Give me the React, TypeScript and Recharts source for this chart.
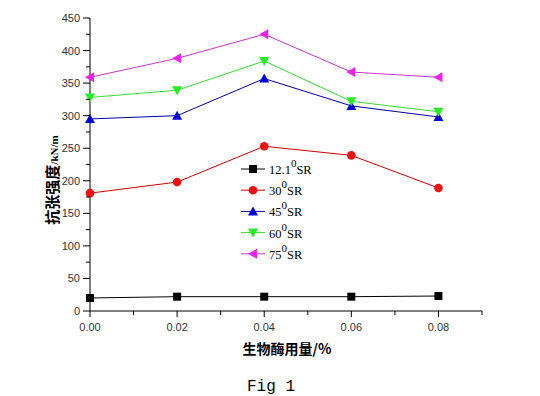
import { LineChart, Line, XAxis, YAxis } from "recharts";

const doses = [0, 0.02, 0.04, 0.06, 0.08];
const sr121 = [20, 22, 22, 22, 23];
const sr30 = [181, 198, 253, 239, 189];
const sr45 = [295, 300, 357, 315, 298];
const sr60 = [328, 339, 384, 322, 306];
const sr75 = [359, 388, 425, 367, 359];

const xTicks = [0, 0.01, 0.02, 0.03, 0.04, 0.05, 0.06, 0.07, 0.08, 0.09];
const yTicks = Array.from({ length: 19 }, (_, i) => i * 25);

const seriesList = [
  { key: "s121", name: "12.1", values: sr121, line: "#000000", fill: "#000000", shape: "square" },
  { key: "s30", name: "30", values: sr30, line: "#d40000", fill: "#ee1111", shape: "circle" },
  { key: "s45", name: "45", values: sr45, line: "#0000aa", fill: "#0000dd", shape: "up" },
  { key: "s60", name: "60", values: sr60, line: "#33dd33", fill: "#22ee22", shape: "down" },
  { key: "s75", name: "75", values: sr75, line: "#cc33cc", fill: "#ee22ee", shape: "left" },
];

const data = doses.map((d, i) => {
  const row: Record<string, number> = { dose: d };
  seriesList.forEach((s) => (row[s.key] = s.values[i]));
  return row;
});

const Marker = ({ cx, cy, shape, color }: { cx: number; cy: number; shape: string; color: string }) => {
  if (cx == null || cy == null) return null;
  if (shape === "square") return <rect x={cx - 4} y={cy - 4} width={8} height={8} fill={color} />;
  if (shape === "circle") return <circle cx={cx} cy={cy} r={4.3} fill={color} />;
  let pts = "";
  if (shape === "up") pts = `${cx - 5},${cy + 4} ${cx + 5},${cy + 4} ${cx},${cy - 5}`;
  if (shape === "down") pts = `${cx - 5},${cy - 4} ${cx + 5},${cy - 4} ${cx},${cy + 5}`;
  if (shape === "left") pts = `${cx + 4},${cy - 5} ${cx + 4},${cy + 5} ${cx - 5},${cy}`;
  return <polygon points={pts} fill={color} />;
};

const YTick = (props: any) => {
  const { x, y, payload } = props;
  const major = payload.value % 50 === 0;
  return (
    <g>
      <line x1={x - (major ? 7 : 4)} x2={x} y1={y} y2={y} stroke="#000" />
      {major && (
        <text x={x - 10} y={y} dy={4} textAnchor="end" fontSize={11} fill="#333" fontFamily="Liberation Sans, Arial">
          {payload.value}
        </text>
      )}
    </g>
  );
};

const XTick = (props: any) => {
  const { x, y, payload } = props;
  const major = Math.round(payload.value * 100) % 2 === 0;
  return (
    <g>
      <line x1={x} x2={x} y1={y} y2={y + (major ? 6 : 4)} stroke="#000" />
      {major && (
        <text x={x} y={y + 20} textAnchor="middle" fontSize={11} fill="#333" fontFamily="Liberation Sans, Arial">
          {payload.value.toFixed(2)}
        </text>
      )}
    </g>
  );
};

// legend drawn by hand, sits inside the plot like the original
const LegendBox = () => (
  <svg width={110} height={120} style={{ position: "absolute", left: 238, top: 150, overflow: "visible" }}>
    {seriesList.map((s, i) => {
      const cy = 19 + i * 21.2;
      return (
        <g key={s.key}>
          <line x1={3} x2={27} y1={cy} y2={cy} stroke={s.line} />
          <Marker cx={15} cy={cy} shape={s.shape} color={s.fill} />
          <text x={31} y={cy + 5} fontSize={12.5} fontFamily="Liberation Serif, serif" fill="#000">
            {s.name}
            <tspan dy={-7} fontSize={11}>0</tspan>
            <tspan dy={7}>SR</tspan>
          </text>
        </g>
      );
    })}
  </svg>
);

export default function App() {
  return (
    <div style={{ position: "absolute", left: 0, top: 0, width: 540, height: 396, background: "#fff" }}>
      <LineChart width={540} height={396} data={data} margin={{ top: 18, right: 58, left: 0, bottom: 55 }}>
        <XAxis
          dataKey="dose"
          type="number"
          domain={[0, 0.09]}
          ticks={xTicks}
          tick={<XTick />}
          tickLine={false}
          tickSize={0}
          tickMargin={0}
          height={30}
          axisLine={{ stroke: "#000" }}
          interval={0}
        />
        <XAxis
          xAxisId="top"
          orientation="top"
          dataKey="dose"
          type="number"
          domain={[0, 0.09]}
          tick={false}
          tickLine={false}
          height={0}
          axisLine={{ stroke: "#000" }}
        />
        <YAxis
          type="number"
          domain={[0, 450]}
          ticks={yTicks}
          tick={<YTick />}
          tickLine={false}
          tickSize={0}
          tickMargin={0}
          width={90}
          axisLine={{ stroke: "#000" }}
          interval={0}
        />
        <YAxis
          yAxisId="right"
          orientation="right"
          domain={[0, 450]}
          tick={false}
          tickLine={false}
          width={0}
          axisLine={{ stroke: "#000" }}
        />
        {seriesList.map((s) => (
          <Line
            key={s.key}
            dataKey={s.key}
            type="linear"
            stroke={s.line}
            strokeWidth={1}
            isAnimationActive={false}
            dot={(p: any) => <Marker key={`${s.key}-${p.index}`} cx={p.cx} cy={p.cy} shape={s.shape} color={s.fill} />}
            activeDot={false}
          />
        ))}
      </LineChart>
      <LegendBox />
      <div
        style={{
          position: "absolute",
          left: 51,
          top: 180,
          transform: "translate(-50%, -50%) rotate(-90deg)",
          whiteSpace: "nowrap",
          fontSize: 15,
          fontWeight: "bold",
          fontFamily: "'Noto Sans CJK SC', sans-serif",
        }}
      >
        抗张强度<span style={{ fontSize: 11, fontWeight: "bold", fontFamily: "'Liberation Serif', serif" }}>/kN/m</span>
      </div>
      <div
        style={{
          position: "absolute",
          left: 287,
          top: 348,
          transform: "translate(-50%, -50%)",
          whiteSpace: "nowrap",
          fontSize: 14,
          fontWeight: "bold",
          fontFamily: "'Noto Sans CJK SC', sans-serif",
        }}
      >
        生物酶用量/%
      </div>
      <div
        style={{
          position: "absolute",
          left: 271,
          top: 387,
          transform: "translate(-50%, -50%)",
          whiteSpace: "nowrap",
          fontSize: 16,
          fontFamily: "'Liberation Mono', monospace",
        }}
      >
        Fig 1
      </div>
    </div>
  );
}
